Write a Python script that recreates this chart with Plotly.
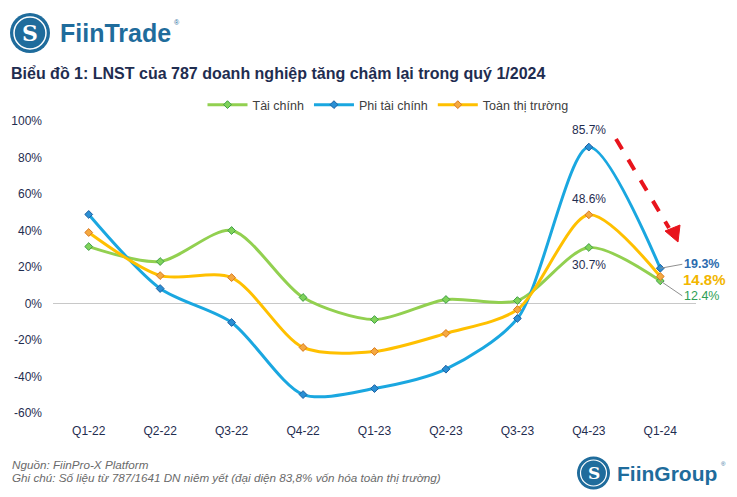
import plotly.graph_objects as go

quarters = ["Q1-22", "Q2-22", "Q3-22", "Q4-22", "Q1-23", "Q2-23", "Q3-23", "Q4-23", "Q1-24"]
tai_chinh = [31.2, 23.0, 40.0, 3.3, -8.8, 2.2, 1.6, 30.7, 12.4]
phi_tai_chinh = [48.8, 8.2, -10.4, -49.9, -46.6, -36.0, -8.2, 85.7, 19.3]
toan_thi_truong = [38.9, 15.3, 14.2, -24.1, -26.3, -16.4, -3.3, 48.6, 14.8]
y_ticks = [-60, -40, -20, 0, 20, 40, 60, 80, 100]

FONT = "Liberation Sans, Arial, sans-serif"
NAVY = "#1f2d50"

series = [
    ("Tài chính", tai_chinh, "#92d050", "#7fd35a", "#3f9e45"),
    ("Phi tài chính", phi_tai_chinh, "#1aa7e0", "#2a8fd4", "#1c5fa0"),
    ("Toàn thị trường", toan_thi_truong, "#ffc000", "#f5a940", "#d9781e"),
]

fig = go.Figure()
for name, vals, lc, mfill, mline in series:
    fig.add_trace(go.Scatter(
        x=quarters, y=vals, name=name, mode="lines+markers",
        line=dict(color=lc, width=3, shape="spline", smoothing=0.8),
        marker=dict(symbol="diamond", size=6, color=mfill, line=dict(color=mline, width=1)),
    ))

L, R, T, B = 53, 41, 121, 84
W, H = 737, 497
pw, ph = W - L - R, H - T - B

def px(x):
    return (x - L) / pw

def py(y):
    return (H - B - y) / ph

annotations = []
# logo text
annotations.append(dict(xref="paper", yref="paper", x=px(58), y=py(33), xanchor="left", yanchor="middle",
                        text="<b>FiinTrade</b>", showarrow=False,
                        font=dict(family=FONT, size=25, color="#1f6c9c")))
annotations.append(dict(xref="paper", yref="paper", x=px(172), y=py(22), xanchor="left", yanchor="middle",
                        text="®", showarrow=False, font=dict(family=FONT, size=7, color="#1f6c9c")))
annotations.append(dict(xref="paper", yref="paper", x=px(30), y=py(33), xanchor="center", yanchor="middle",
                        text="<b>S</b>", showarrow=False, font=dict(family="DejaVu Serif, serif", size=22, color="white")))
# title
annotations.append(dict(xref="paper", yref="paper", x=px(9), y=py(74), xanchor="left", yanchor="middle",
                        text="<b>Biểu đồ 1: LNST của 787 doanh nghiệp tăng chậm lại trong quý 1/2024</b>",
                        showarrow=False, font=dict(family=FONT, size=16, color=NAVY)))
# data labels
i4 = 7
annotations.append(dict(x=quarters[i4], y=phi_tai_chinh[i4], text=f"{phi_tai_chinh[i4]:.1f}%", showarrow=False,
                        yshift=17, font=dict(family=FONT, size=12, color=NAVY)))
annotations.append(dict(x=quarters[i4], y=toan_thi_truong[i4], text=f"{toan_thi_truong[i4]:.1f}%", showarrow=False,
                        yshift=16, font=dict(family=FONT, size=12, color=NAVY)))
annotations.append(dict(x=quarters[i4], y=tai_chinh[i4], text=f"{tai_chinh[i4]:.1f}%", showarrow=False,
                        yshift=-18, font=dict(family=FONT, size=12, color=NAVY)))
i5 = 8
annotations.append(dict(x=quarters[i5], y=phi_tai_chinh[i5], text=f"<b>{phi_tai_chinh[i5]:.1f}%</b>", showarrow=True,
                        arrowhead=0, arrowwidth=1, arrowcolor="#909090", ax=22, ay=-4, xanchor="left",
                        font=dict(family=FONT, size=12.5, color="#2c6cae")))
annotations.append(dict(x=quarters[i5], y=toan_thi_truong[i5], text=f"<b>{toan_thi_truong[i5]:.1f}%</b>", showarrow=False,
                        xanchor="left", xshift=21, yshift=-3,
                        font=dict(family=FONT, size=15, color="#f2b600")))
annotations.append(dict(x=quarters[i5], y=tai_chinh[i5], text=f"{tai_chinh[i5]:.1f}%", showarrow=True,
                        arrowhead=0, arrowwidth=1, arrowcolor="#909090", ax=22, ay=15, xanchor="left",
                        font=dict(family=FONT, size=12.5, color="#2e9e55")))
# footer
annotations.append(dict(xref="paper", yref="paper", x=px(10), y=py(464), xanchor="left", yanchor="middle",
                        text="<i>Nguồn: FiinPro-X Platform</i>", showarrow=False,
                        font=dict(family=FONT, size=11.7, color="#6a6a6a")))
annotations.append(dict(xref="paper", yref="paper", x=px(10), y=py(477), xanchor="left", yanchor="middle",
                        text="<i>Ghi chú: Số liệu từ 787/1641 DN niêm yết (đại diện 83,8% vốn hóa toàn thị trường)</i>",
                        showarrow=False, font=dict(family=FONT, size=11.7, color="#6a6a6a")))
annotations.append(dict(xref="paper", yref="paper", x=px(615), y=py(473), xanchor="left", yanchor="middle",
                        text="<b>FiinGroup</b>", showarrow=False, font=dict(family=FONT, size=21, color="#1f6c9c")))
annotations.append(dict(xref="paper", yref="paper", x=px(719), y=py(464), xanchor="left", yanchor="middle",
                        text="®", showarrow=False, font=dict(family=FONT, size=6, color="#1f6c9c")))
annotations.append(dict(xref="paper", yref="paper", x=px(594), y=py(473), xanchor="center", yanchor="middle",
                        text="<b>S</b>", showarrow=False, font=dict(family="DejaVu Serif, serif", size=17, color="white")))

shapes = [
    dict(type="circle", xref="paper", yref="paper", x0=px(10), x1=px(50), y0=py(53), y1=py(13),
         fillcolor="#1f6c9c", line=dict(width=0), layer="above"),
    dict(type="circle", xref="paper", yref="paper", x0=px(14), x1=px(46), y0=py(49), y1=py(17),
         fillcolor="rgba(0,0,0,0)", line=dict(color="white", width=1.5), layer="above"),
    dict(type="circle", xref="paper", yref="paper", x0=px(577), x1=px(610), y0=py(489.5), y1=py(456.5),
         fillcolor="#1f6c9c", line=dict(width=0), layer="above"),
    dict(type="circle", xref="paper", yref="paper", x0=px(580.5), x1=px(606.5), y0=py(486), y1=py(460),
         fillcolor="rgba(0,0,0,0)", line=dict(color="white", width=1.2), layer="above"),
    # red dashed arrow
    dict(type="line", xref="paper", yref="paper", x0=px(616), y0=py(139), x1=px(669), y1=py(228),
         line=dict(color="#e8141c", width=4, dash="dash")),
    dict(type="path", xref="paper", yref="paper",
         path=f"M {px(678)} {py(242)} L {px(665)} {py(231)} L {px(680)} {py(225)} Z",
         fillcolor="#e8141c", line=dict(color="#e8141c", width=1)),
]

fig.update_layout(
    width=W, height=H,
    margin=dict(l=L, r=R, t=T, b=B),
    paper_bgcolor="white", plot_bgcolor="white",
    font=dict(family=FONT, size=12, color=NAVY),
    showlegend=True,
    legend=dict(orientation="h", x=px(388), y=py(105), xanchor="center", yanchor="middle",
                font=dict(family=FONT, size=12.5, color="#404040"), itemwidth=40, tracegroupgap=0),
    xaxis=dict(type="category", range=[-0.5, len(quarters) - 0.5], autorange=False,
               showgrid=False, showline=False, zeroline=False, ticks="",
               tickfont=dict(family=FONT, size=12, color=NAVY), ticklabelstandoff=9),
    yaxis=dict(range=[-60, 100], autorange=False, tickvals=y_ticks, ticktext=[f"{v}%" for v in y_ticks],
               showgrid=False, zeroline=True, zerolinecolor="#c8c8c8", zerolinewidth=1,
               showline=False, ticks="", ticklabelstandoff=10,
               tickfont=dict(family=FONT, size=12, color=NAVY)),
    annotations=annotations, shapes=shapes,
)

fig.write_html("out.html")
